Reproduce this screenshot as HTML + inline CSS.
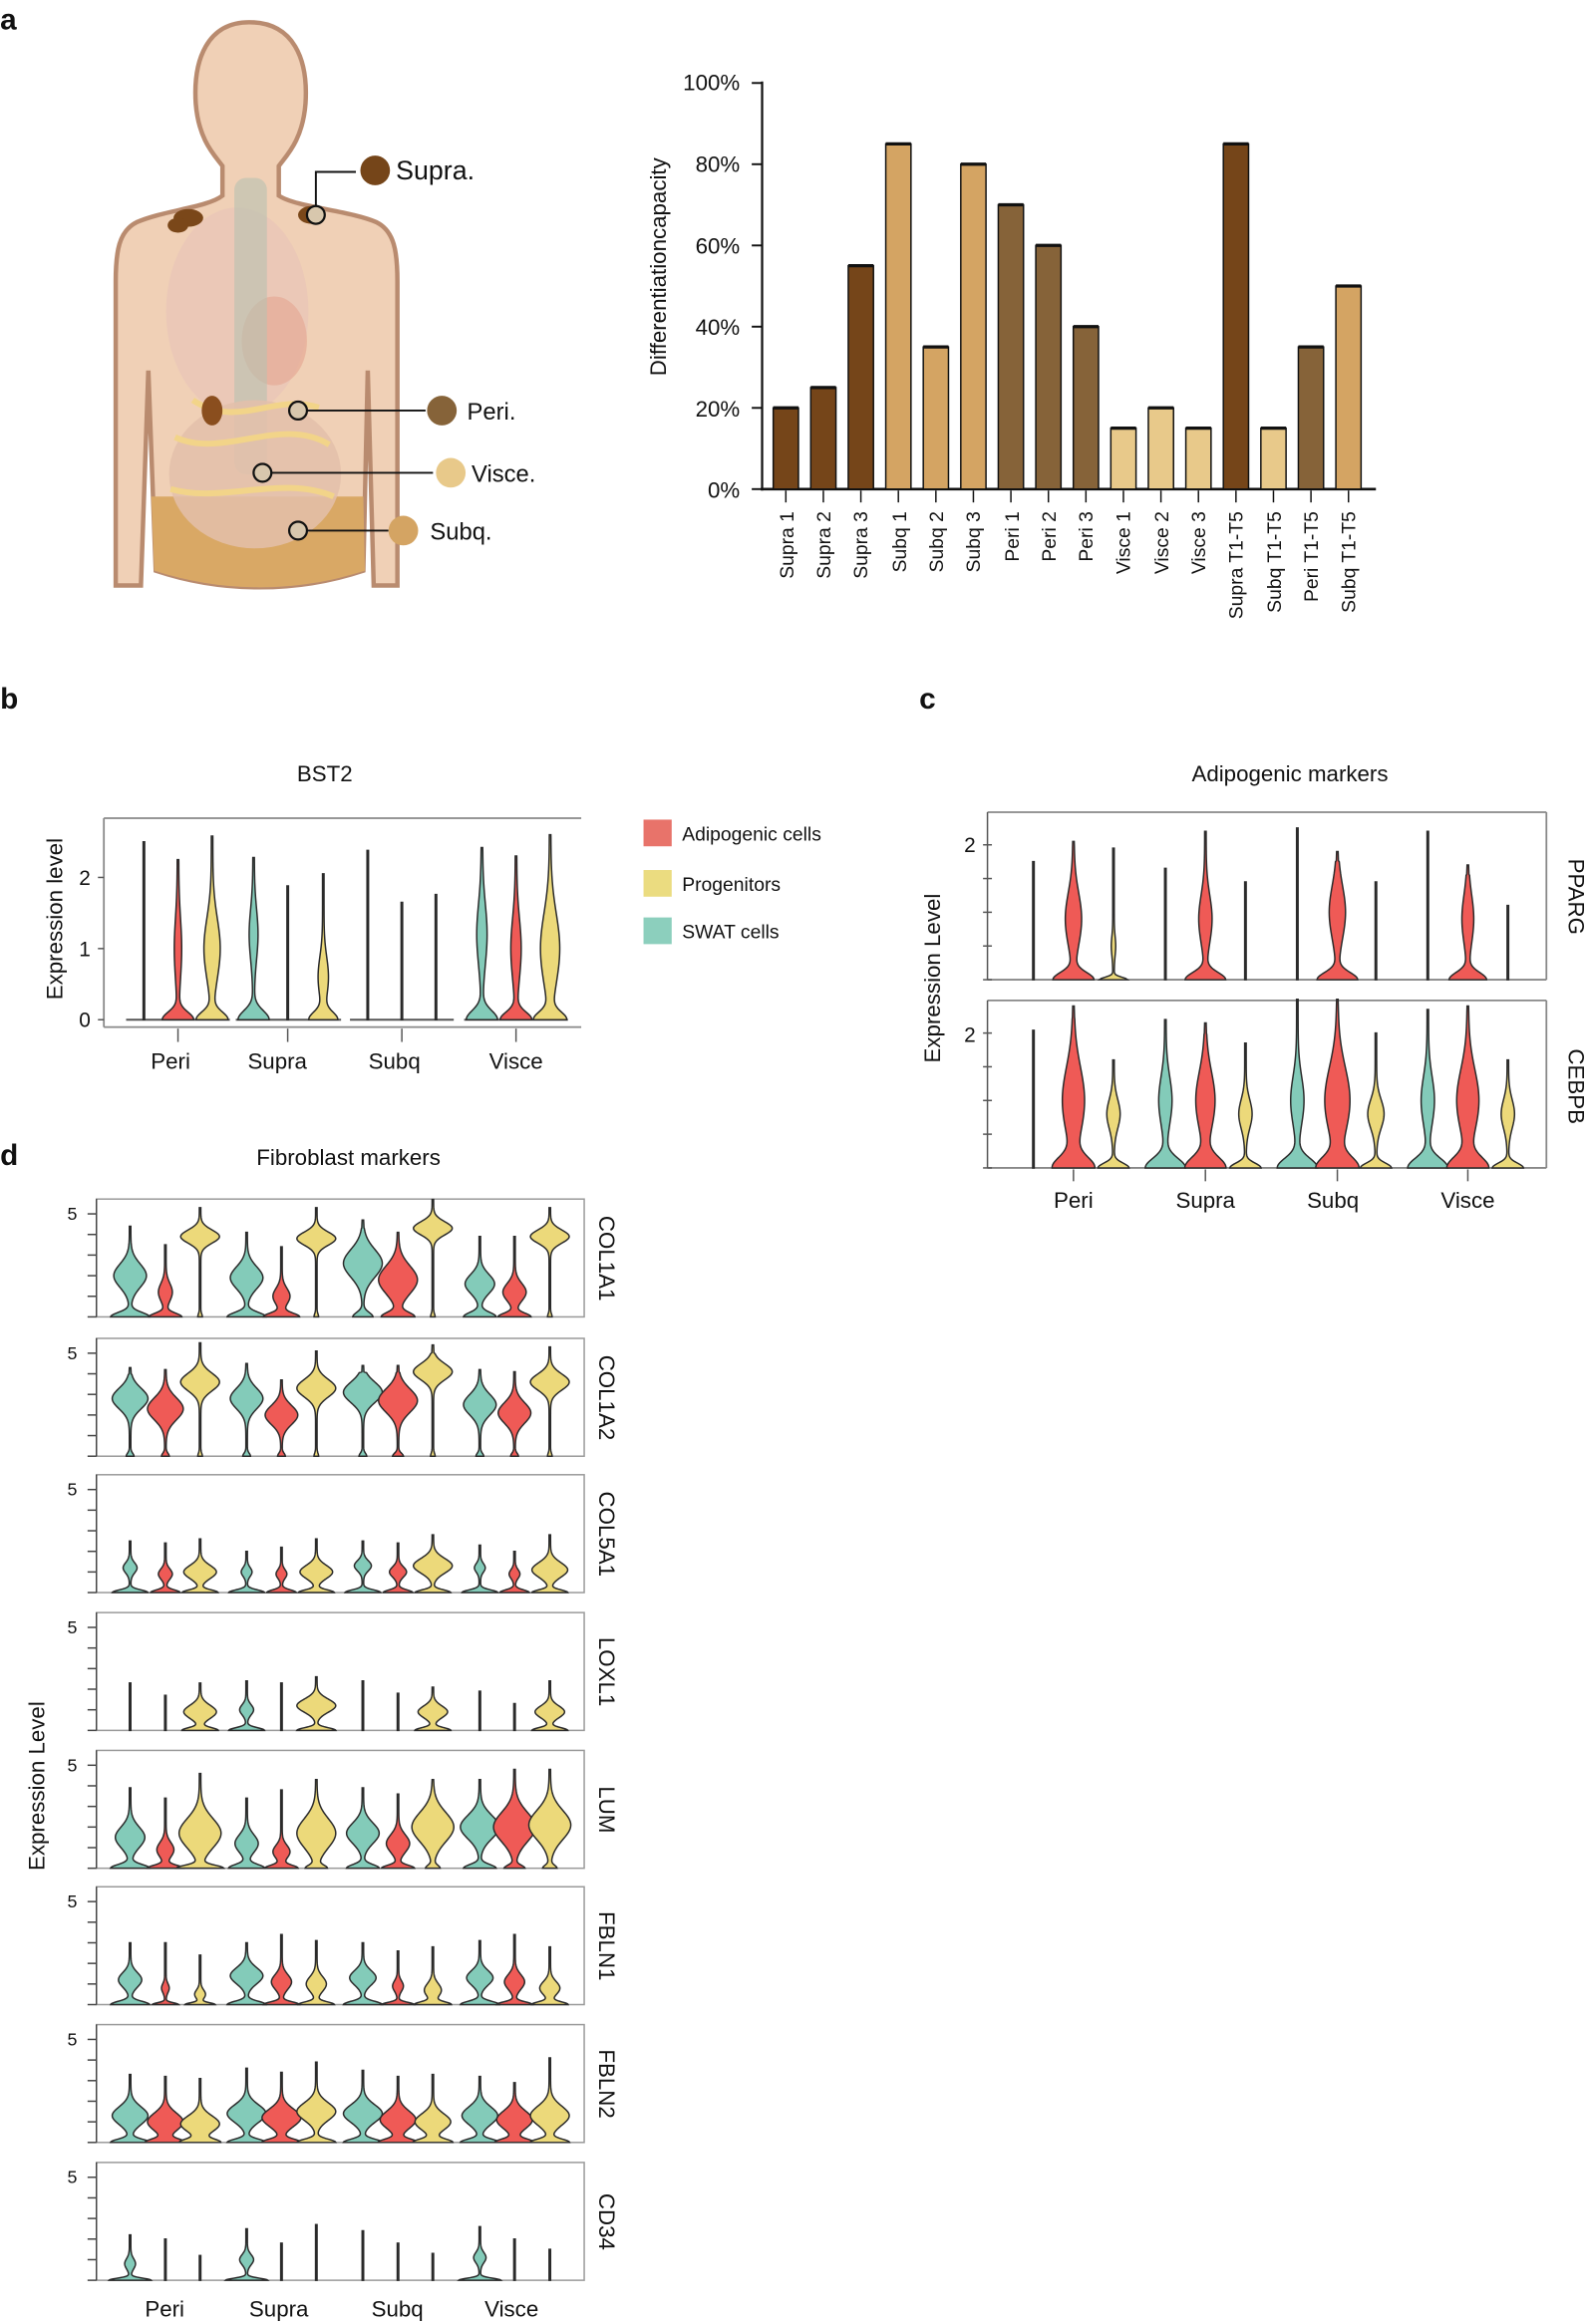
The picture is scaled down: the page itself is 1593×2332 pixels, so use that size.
<!DOCTYPE html>
<html><head><meta charset="utf-8"><style>
html,body{margin:0;padding:0;background:#fff}
svg{display:block}
text{font-family:"Liberation Sans",sans-serif;fill:#111}
</style></head><body>
<svg id="s" width="1593" height="2332" viewBox="0 0 1071 1568" xmlns="http://www.w3.org/2000/svg">
<rect width="1071" height="1568" fill="#fff"/>
<text x="0" y="20" font-size="20" font-weight="bold">a</text>
<text x="0" y="478" font-size="20" font-weight="bold">b</text>
<text x="620" y="478" font-size="20" font-weight="bold">c</text>
<text x="0" y="786" font-size="20" font-weight="bold">d</text>

<g stroke="#b98b6f" stroke-width="3" fill="#f0d0b6">
<path d="M168,15 C140,15 130,40 132,70 C134,95 145,105 150,112 L150,132 C140,140 110,142 92,150 C80,156 78,170 78,190 L78,395 L95,395 L100,250 L105,385 C150,400 200,400 245,385 L248,250 L252,395 L268,395 L268,190 C268,170 266,156 254,150 C236,142 200,140 188,132 L188,112 C193,105 204,95 206,70 C208,40 198,15 168,15 Z"/>
</g>
<path d="M102,335 L245,335 L246,385 C200,400 150,400 104,385 Z" fill="#d9a865"/>
<ellipse cx="160" cy="210" rx="48" ry="70" fill="#e8c3b8" opacity="0.6"/>
<ellipse cx="185" cy="230" rx="22" ry="30" fill="#e6a995" opacity="0.7"/>
<rect x="158" y="120" width="22" height="200" rx="8" fill="#b8c1b0" opacity="0.6"/>
<ellipse cx="172" cy="320" rx="58" ry="50" fill="#e3c0aa" opacity="0.85"/>
<path d="M118,295 C150,310 190,280 222,300 M115,330 C150,340 190,320 225,335 M130,270 C160,290 185,265 215,275" stroke="#f2d489" stroke-width="4" fill="none"/>
<ellipse cx="143" cy="277" rx="7" ry="10" fill="#8a4e1e"/>
<ellipse cx="127" cy="147" rx="10" ry="6" fill="#7a4719"/>
<ellipse cx="120" cy="152" rx="7" ry="5" fill="#7a4719"/>
<ellipse cx="210" cy="145" rx="9" ry="6" fill="#7a4719"/>
<g stroke="#111" stroke-width="1.3" fill="none">
<polyline points="213,145 213,116 240,116"/>
<line x1="207" y1="277" x2="287" y2="277"/>
<line x1="183" y1="319" x2="292" y2="319"/>
<line x1="207" y1="358" x2="262" y2="358"/>
</g>
<g stroke="#111" stroke-width="1.5" fill="#d8c7ad">
<circle cx="213" cy="145" r="6"/><circle cx="201" cy="277" r="6"/><circle cx="177" cy="319" r="6"/><circle cx="201" cy="358" r="6"/>
</g>
<circle cx="253" cy="115" r="10" fill="#754519"/>
<circle cx="298" cy="277" r="10" fill="#866339"/>
<circle cx="304" cy="319" r="10" fill="#e8c98a"/>
<circle cx="272" cy="358" r="10" fill="#d4a463"/>
<text x="267" y="121" font-size="18">Supra.</text>
<text x="315" y="283" font-size="16">Peri.</text>
<text x="318" y="325" font-size="16">Visce.</text>
<text x="290" y="364" font-size="16">Subq.</text>

<g id="bars"></g>
<g id="b"></g>
<g id="c"></g>
<g id="d"></g>

<g font-size="15" text-anchor="end">
<text x="499" y="61">100%</text><text x="499" y="116">80%</text><text x="499" y="171">60%</text>
<text x="499" y="226">40%</text><text x="499" y="281">20%</text><text x="499" y="336">0%</text>
</g>
<text transform="translate(449,180) rotate(-90)" font-size="15" text-anchor="middle">Differentiationcapacity</text>
<g font-size="13" text-anchor="end">
<text transform="translate(535,345) rotate(-90)">Supra 1</text>
<text transform="translate(560,345) rotate(-90)">Supra 2</text>
<text transform="translate(585,345) rotate(-90)">Supra 3</text>
<text transform="translate(611,345) rotate(-90)">Subq 1</text>
<text transform="translate(636,345) rotate(-90)">Subq 2</text>
<text transform="translate(661,345) rotate(-90)">Subq 3</text>
<text transform="translate(687,345) rotate(-90)">Peri 1</text>
<text transform="translate(712,345) rotate(-90)">Peri 2</text>
<text transform="translate(737,345) rotate(-90)">Peri 3</text>
<text transform="translate(762,345) rotate(-90)">Visce 1</text>
<text transform="translate(788,345) rotate(-90)">Visce 2</text>
<text transform="translate(813,345) rotate(-90)">Visce 3</text>
<text transform="translate(838,345) rotate(-90)">Supra T1-T5</text>
<text transform="translate(864,345) rotate(-90)">Subq T1-T5</text>
<text transform="translate(889,345) rotate(-90)">Peri T1-T5</text>
<text transform="translate(914,345) rotate(-90)">Subq T1-T5</text>
</g>

<text x="219" y="527" font-size="15" text-anchor="middle">BST2</text>
<text transform="translate(42,620) rotate(-90)" font-size="15" text-anchor="middle">Expression level</text>
<g font-size="14" text-anchor="end"><text x="61" y="693">0</text><text x="61" y="645">1</text><text x="61" y="597">2</text></g>
<g font-size="15" text-anchor="middle"><text x="115" y="721">Peri</text><text x="187" y="721">Supra</text><text x="266" y="721">Subq</text><text x="348" y="721">Visce</text></g>
<rect x="434" y="553" width="19" height="18" fill="#e8736a"/>
<rect x="434" y="587" width="19" height="18" fill="#ebdc80"/>
<rect x="434" y="619" width="19" height="18" fill="#8ccfbd"/>
<g font-size="13"><text x="460" y="567">Adipogenic cells</text><text x="460" y="601">Progenitors</text><text x="460" y="633">SWAT cells</text></g>

<text x="870" y="527" font-size="15" text-anchor="middle">Adipogenic markers</text>
<text transform="translate(634,660) rotate(-90)" font-size="15" text-anchor="middle">Expression Level</text>
<g font-size="14" text-anchor="end"><text x="658" y="575">2</text><text x="658" y="703">2</text></g>
<g font-size="15" text-anchor="middle"><text x="724" y="815">Peri</text><text x="813" y="815">Supra</text><text x="899" y="815">Subq</text><text x="990" y="815">Visce</text></g>
<text transform="translate(1058,605) rotate(90)" font-size="15" text-anchor="middle">PPARG</text>
<text transform="translate(1058,733) rotate(90)" font-size="15" text-anchor="middle">CEBPB</text>

<text x="235" y="786" font-size="15" text-anchor="middle">Fibroblast markers</text>
<text transform="translate(30,1205) rotate(-90)" font-size="15" text-anchor="middle">Expression Level</text>
<g font-size="15" text-anchor="middle"><text x="111" y="1563">Peri</text><text x="188" y="1563">Supra</text><text x="268" y="1563">Subq</text><text x="345" y="1563">Visce</text></g>
<g font-size="15" text-anchor="middle">
<text transform="translate(404,849) rotate(90)">COL1A1</text>
<text transform="translate(404,943) rotate(90)">COL1A2</text>
<text transform="translate(404,1035) rotate(90)">COL5A1</text>
<text transform="translate(404,1128) rotate(90)">LOXL1</text>
<text transform="translate(404,1221) rotate(90)">LUM</text>
<text transform="translate(404,1313) rotate(90)">FBLN1</text>
<text transform="translate(404,1406) rotate(90)">FBLN2</text>
<text transform="translate(404,1499) rotate(90)">CD34</text>
</g>
<g font-size="12" text-anchor="end">
<text x="52" y="823">5</text><text x="52" y="917">5</text><text x="52" y="1009">5</text><text x="52" y="1102">5</text>
<text x="52" y="1195">5</text><text x="52" y="1287">5</text><text x="52" y="1380">5</text><text x="52" y="1473">5</text>
</g>
</svg>
<script>
var NS="http://www.w3.org/2000/svg";
function el(p,t,a){var e=document.createElementNS(NS,t);for(var k in a)e.setAttribute(k,a[k]);p.appendChild(e);return e;}
var g=document.getElementById('bars');
var vals=[20,25,55,85,35,80,70,60,40,15,20,15,85,15,35,50];
var D="#754519",T="#d4a463",P="#866339",V="#e8c98a";
var cols=[D,D,D,T,T,T,P,P,P,V,V,V,D,V,P,T];
el(g,'line',{x1:514,y1:55,x2:514,y2:331,stroke:'#111','stroke-width':1.5});
el(g,'line',{x1:513,y1:330,x2:928,y2:330,stroke:'#111','stroke-width':1.8});
for(var i=0;i<6;i++){var y=56+i*54.8;el(g,'line',{x1:507,y1:y,x2:514,y2:y,stroke:'#111','stroke-width':1.3});}
for(var i=0;i<16;i++){var cx=530+i*25.3,h=vals[i]*2.74;
el(g,'rect',{x:cx-8.5,y:330-h,width:17,height:h,fill:cols[i],stroke:'#111','stroke-width':1});
el(g,'line',{x1:cx-8.5,y1:330-h,x2:cx+8.5,y2:330-h,stroke:'#111','stroke-width':2.2});
el(g,'line',{x1:cx,y1:331,x2:cx,y2:339,stroke:'#111','stroke-width':1});}
function violin(p,cx,y0,ppu,v,col,ws){
 ws=ws||1;
 var top=v[0],a0=v[1]*ws,s0=v[2],a1=v[3]*ws,m=v[4],s1=v[5];
 var N=100,R=[],L=[];
 el(p,'line',{x1:cx,y1:y0,x2:cx,y2:y0-top*ppu,stroke:'#2a2a2a','stroke-width':1.1});
 for(var k=0;k<=N;k++){var y=top*k/N;
  var w=a0*Math.exp(-Math.pow(y/s0,2))+a1*Math.exp(-Math.pow((y-m)/s1,2))+0.5;
  var fr=(top-y)/top; if(fr<0.08)w=Math.min(w,0.5+fr*3);
  R.push((cx+w).toFixed(2)+','+(y0-y*ppu).toFixed(2));
  L.unshift((cx-w).toFixed(2)+','+(y0-y*ppu).toFixed(2));}
 el(p,'path',{d:'M'+R.join(' L')+' L'+L.join(' L')+'Z',fill:col,stroke:'#2a2a2a','stroke-width':1});
}
var TE="#83cbb9",RE="#ef5a56",YE="#ecd97a";
var b=document.getElementById('b');
el(b,'line',{x1:70,y1:552,x2:392,y2:552,stroke:'#888','stroke-width':1.2});
el(b,'line',{x1:70,y1:693,x2:392,y2:693,stroke:'#888','stroke-width':1.2});
el(b,'line',{x1:70,y1:552,x2:70,y2:693,stroke:'#888','stroke-width':1.2});
[688,640,592].forEach(function(y){el(b,'line',{x1:66,y1:y,x2:70,y2:y,stroke:'#555'});});
var bx=[[97,120,143],[171,194,218],[248,271,294],[325,348,371]];
var bd=[[[2.5,0,.2,0,1,.5],[2.25,10,.15,2,1,.6],[2.58,10,.15,5,1,.6]],
[[2.28,10,.18,2.5,1.2,.5],[1.88,0,.2,0,1,.5],[2.05,9,.15,3,.6,.4]],
[[2.38,0,.2,0,1,.5],[1.65,0,.2,0,1,.5],[1.76,0,.2,0,1,.5]],
[[2.42,10,.18,3,1.2,.6],[2.3,10,.15,3,1,.6],[2.6,10,.15,6,1,.7]]];
for(var gi=0;gi<4;gi++){el(b,'line',{x1:bx[gi][0]-12,y1:688,x2:bx[gi][2]+12,y2:688,stroke:'#555','stroke-width':1.3});
 [TE,RE,YE].forEach(function(c,j){violin(b,bx[gi][j],688,48,bd[gi][j],c);});
 el(b,'line',{x1:bx[gi][1],y1:694,x2:bx[gi][1],y2:703,stroke:'#555'});}
var c=document.getElementById('c');
var cx=[[697,724,751],[786,813,840],[875,902,928],[963,990,1017]];
function cpanel(ytop,y0,data){
 el(c,'line',{x1:666,y1:ytop,x2:1043,y2:ytop,stroke:'#888','stroke-width':1.2});
 el(c,'line',{x1:1043,y1:ytop,x2:1043,y2:y0,stroke:'#888','stroke-width':1.2});
 el(c,'line',{x1:666,y1:y0,x2:1043,y2:y0,stroke:'#888','stroke-width':1.2});
 el(c,'line',{x1:666,y1:ytop,x2:666,y2:y0,stroke:'#555','stroke-width':1});
 for(var k=0;k<5;k++){var y=y0-k*22.75;el(c,'line',{x1:663,y1:y,x2:669,y2:y,stroke:'#555'});}
 for(var gi=0;gi<4;gi++)[TE,RE,YE].forEach(function(col,j){violin(c,cx[gi][j],y0,45.5,data[gi][j],col);});
}
var z=[0,.2,0,1,.5];
cpanel(548,661,[
 [[1.75].concat(z),[2.05,13,.15,5,.9,.55],[1.95,9,.05,1,.5,.2]],
 [[1.65].concat(z),[2.2,13,.15,4,.9,.5],[1.45].concat(z)],
 [[2.25].concat(z),[1.9,13,.15,5,1,.55],[1.45].concat(z)],
 [[2.2].concat(z),[1.7,12,.15,3.5,.9,.5],[1.1].concat(z)]]);
cpanel(675,788,[
 [[2.04].concat(z),[2.4,13,.22,7,1,.7],[1.6,10,.1,4,.8,.3]],
 [[2.2,13,.2,4,1,.5],[2.15,13,.22,6,1,.6],[1.85,10,.1,4,.8,.3]],
 [[2.5,13,.2,4,1,.5],[2.5,13,.22,8,1,.7],[2.0,10,.1,5,.8,.3]],
 [[2.35,13,.2,4,1,.5],[2.4,13,.22,7,1,.65],[1.6,10,.1,4,.8,.3]]]);
[724,813,902,990].forEach(function(x){el(c,'line',{x1:x,y1:789,x2:x,y2:797,stroke:'#555'});});
var d=document.getElementById('d');
var dx=[[87.7,111.5,134.9],[166.3,189.8,213.3],[244.7,268.4,291.9],[323.6,347,370.8]];
var tops=[809,903,995,1088,1181,1273,1366,1459];
function L(t){return [t,0,.2,0,1,.5];}
var DD=[
[[[4.4,12,.3,10,2,.8],[3.5,10,.25,4,1.2,.6],[5.3,1,.2,12,3.9,.45]],
 [[4.1,12,.3,10,1.9,.75],[3.4,11,.25,5,1,.55],[5.3,1,.2,12,3.8,.45]],
 [[4.7,6,.3,12,2.6,.95],[4.1,10,.3,12,1.8,.95],[5.7,1,.2,12,4.3,.45]],
 [[3.9,10,.3,9,1.6,.65],[3.9,10,.25,7,1.2,.6],[5.3,1,.2,12,3.9,.45]]],
[[[4.3,2,.2,11,2.8,.7],[4.2,2,.2,11,2.3,.75],[5.5,1,.2,12,3.6,.6]],
 [[4.5,2,.2,10,2.8,.7],[3.7,2,.2,10,2,.65],[5.1,1,.2,12,3.3,.6]],
 [[4.4,2,.2,12,3.1,.7],[4.4,3,.2,12,2.7,.8],[5.4,1,.2,12,4.1,.55]],
 [[4.2,2,.2,10,2.5,.7],[4.1,2,.2,10,2.1,.7],[5.3,1,.2,12,3.6,.55]]],
[[[2.5,11,.18,4,1.2,.35],[2.4,9,.18,4,.9,.35],[2.6,11,.18,10,1,.45]],
 [[2.0,11,.18,3,1,.3],[2.2,9,.18,3,.9,.3],[2.6,11,.18,10,1,.45]],
 [[2.5,11,.18,5,1.3,.35],[2.4,9,.18,5,1,.35],[2.8,11,.18,12,1.3,.5]],
 [[2.3,11,.18,3,1.2,.3],[2.0,9,.18,3,.9,.3],[2.8,11,.18,11,1.1,.5]]],
[[L(2.3),L(1.7),[2.3,11,.18,10,.9,.45]],
 [[2.4,11,.18,4,1,.35],L(2.3),[2.6,12,.18,12,1.2,.45]],
 [L(2.4),L(1.8),[2.1,11,.18,9,.9,.4]],
 [L(1.9),L(1.3),[2.4,11,.18,9,.9,.4]]],
[[[3.9,12,.25,9,1.5,.7],[3.4,11,.2,5,.9,.5],[4.6,14,.2,13,1.7,1]],
 [[3.4,11,.25,7,1.2,.6],[3.8,10,.2,5,.8,.45],[4.3,6,.2,12,1.7,1]],
 [[3.9,10,.25,10,1.7,.7],[3.6,10,.2,7,1.2,.6],[4.3,4,.2,13,2,1]],
 [[4.3,10,.25,12,2,.8],[4.8,6,.2,13,2,1],[4.8,4,.2,13,2.1,1]]],
[[[3.0,12,.22,7,1.2,.5],[3.0,8,.12,2,.8,.3],[2.4,9,.12,3,.5,.3]],
 [[3.0,12,.22,10,1.4,.55],[3.4,11,.18,6,1.1,.5],[3.1,11,.18,6,1,.5]],
 [[3.0,12,.22,8,1.3,.5],[2.6,10,.15,3,.9,.35],[2.8,11,.18,5,.7,.45]],
 [[3.1,12,.22,8,1.3,.5],[3.4,11,.18,6,1.1,.5],[2.8,11,.18,6,.8,.45]]],
[[[3.3,12,.22,11,1.3,.6],[3.2,12,.22,11,1,.6],[3.1,12,.22,12,.9,.55]],
 [[3.6,12,.22,12,1.4,.6],[3.4,12,.22,12,1.2,.6],[3.9,12,.22,12,1.5,.6]],
 [[3.5,12,.22,12,1.4,.6],[3.2,12,.22,11,1.1,.6],[3.3,12,.22,11,1,.55]],
 [[3.2,12,.22,11,1.3,.6],[2.9,12,.22,11,1.1,.6],[4.1,12,.22,12,1.3,.65]]],
[[[2.2,13,.14,3,.8,.35],L(2.0),L(1.2)],
 [[2.5,13,.14,4,1,.35],L(1.8),L(2.7)],
 [L(2.4),L(1.8),L(1.3)],
 [[2.6,13,.14,3.5,1.1,.35],L(2.0),L(1.5)]]];
for(var p=0;p<8;p++){var yt=tops[p],y0=yt+79.5;
 el(d,'rect',{x:65,y:yt,width:329,height:79.5,fill:'none',stroke:'#999','stroke-width':1});
 el(d,'line',{x1:65,y1:yt,x2:65,y2:y0,stroke:'#444','stroke-width':1});
 for(var k=0;k<6;k++){var y=y0-k*13.9;el(d,'line',{x1:59,y1:y,x2:65,y2:y,stroke:'#444'});}
 for(var gi=0;gi<4;gi++)[TE,RE,YE].forEach(function(col,j){violin(d,dx[gi][j],y0,13.9,DD[p][gi][j],col,1.05);});
}
</script>
</body></html>
